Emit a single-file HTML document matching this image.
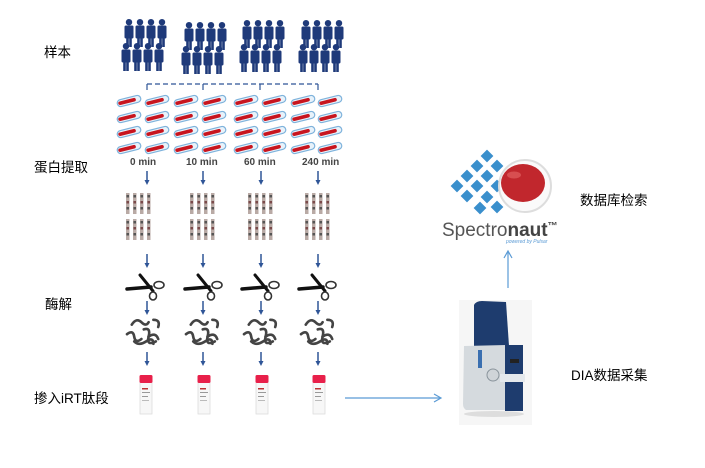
<!DOCTYPE html>
<html><head><meta charset="utf-8"><style>
html,body{margin:0;padding:0;background:#fff}
svg{display:block}
.l{font-family:"Liberation Sans","Noto Sans CJK SC",sans-serif;font-size:13.5px;fill:#000}
.m{font-family:"Liberation Sans",sans-serif;font-size:10px;font-weight:bold;fill:#444}
</style></head><body>
<svg width="705" height="468" viewBox="0 0 705 468" xmlns="http://www.w3.org/2000/svg">
<defs>
<symbol id="p" overflow="visible"><circle cx="5" cy="3.2" r="3.2" fill="#1f3a7a"/><rect x="0.5" y="6.5" width="9" height="13" rx="1.5" fill="#1f3a7a"/><rect x="2.2" y="17" width="2.6" height="11" fill="#1f3a7a"/><rect x="5.2" y="17" width="2.6" height="11" fill="#1f3a7a"/></symbol>
<symbol id="g" overflow="visible">
<use href="#p" x="4" y="0"/><use href="#p" x="15" y="0"/><use href="#p" x="26" y="0"/><use href="#p" x="37" y="0"/>
<use href="#p" x="1" y="24"/><use href="#p" x="12" y="24"/><use href="#p" x="23" y="24"/><use href="#p" x="34" y="24"/>
</symbol>
<symbol id="t" overflow="visible"><g transform="rotate(-14)"><rect x="-12" y="-3.5" width="24" height="7" rx="3.5" fill="#e8f2fa" stroke="#7fb3dc" stroke-width="1.2"/><rect x="-11" y="-1.8" width="18" height="3.6" rx="1.8" fill="#c8141e"/></g></symbol>
<symbol id="tc" overflow="visible"><use href="#t" x="0" y="0"/><use href="#t" x="0" y="16"/><use href="#t" x="0" y="31"/><use href="#t" x="0" y="47"/></symbol>
<symbol id="s" overflow="visible"><rect x="0" y="0" width="3.5" height="21" fill="#b9aaa5"/><rect x="0.5" y="2" width="2.5" height="2.5" fill="#555"/><rect x="0.5" y="8" width="2.5" height="2.5" fill="#7a4a4a"/><rect x="0.5" y="14" width="2.5" height="2.5" fill="#555"/></symbol>
<symbol id="sg" overflow="visible"><use href="#s" x="0" y="0"/><use href="#s" x="7" y="0"/><use href="#s" x="14" y="0"/><use href="#s" x="21" y="0"/><use href="#s" x="0" y="26"/><use href="#s" x="7" y="26"/><use href="#s" x="14" y="26"/><use href="#s" x="21" y="26"/></symbol>
<symbol id="a" overflow="visible"><line x1="0" y1="0" x2="0" y2="11" stroke="#2f5597" stroke-width="1.5"/><path d="M-2.5,9 L0,14 L2.5,9Z" fill="#2f5597"/></symbol>
<symbol id="sc" overflow="visible"><path d="M0,16 L24,14" stroke="#111" stroke-width="3.5" stroke-linecap="round"/><path d="M13,2 L26,18" stroke="#111" stroke-width="3" stroke-linecap="round"/><ellipse cx="32" cy="12" rx="5" ry="3.5" fill="none" stroke="#333" stroke-width="1.6"/><ellipse cx="26" cy="23" rx="3.5" ry="4" fill="none" stroke="#333" stroke-width="1.6"/></symbol>
<symbol id="f" overflow="visible" fill="none" stroke="#444" stroke-width="2.2" stroke-linecap="round"><g transform="scale(1.2)"><path d="M4,8 q4,-6 8,-2 t6,0"/><path d="M0,16 q5,-4 6,2 t6,2"/><path d="M14,12 q6,-2 4,6 t6,4"/><path d="M22,4 q6,0 4,6"/><path d="M6,22 q4,4 10,0 t6,2"/><path d="M18,18 q6,-4 8,2"/></g></symbol>
<symbol id="v" overflow="visible"><rect x="0" y="7" width="12" height="32" fill="#f7f7f7" stroke="#ddd" stroke-width="0.8"/><rect x="-0.5" y="0" width="13" height="8" rx="1.5" fill="#e8204a"/><rect x="2" y="13" width="6" height="1.5" fill="#b33"/><rect x="2" y="17" width="8" height="1" fill="#999"/><rect x="2" y="21" width="6" height="1" fill="#999"/><rect x="2" y="25" width="7" height="1" fill="#bbb"/></symbol>
<symbol id="d" overflow="visible"><rect x="-4.5" y="-4.5" width="9" height="9" fill="#3a8fcc" transform="rotate(45)"/></symbol>
</defs>

<text class="l" x="44" y="57">样本</text>
<text class="l" x="34" y="172">蛋白提取</text>
<text class="l" x="45" y="309">酶解</text>
<text class="l" x="34" y="403">掺入iRT肽段</text>
<text class="l" x="580" y="205">数据库检索</text>
<text class="l" x="571" y="380">DIA数据采集</text>

<use href="#g" x="120" y="19"/><use href="#g" x="180" y="22"/><use href="#g" x="238" y="20"/><use href="#g" x="297" y="20"/>

<line x1="147" y1="84" x2="318" y2="84" stroke="#2f5597" stroke-width="1.2" stroke-dasharray="5,3"/>
<g stroke="#2f5597" stroke-width="1.2"><line x1="147" y1="84" x2="147" y2="90"/><line x1="203" y1="84" x2="203" y2="90"/><line x1="260" y1="84" x2="260" y2="90"/><line x1="318" y1="84" x2="318" y2="90"/></g>

<use href="#tc" x="129" y="101"/><use href="#tc" x="157" y="101"/><use href="#tc" x="186" y="101"/><use href="#tc" x="214" y="101"/><use href="#tc" x="246" y="101"/><use href="#tc" x="274" y="101"/><use href="#tc" x="303" y="101"/><use href="#tc" x="330" y="101"/>

<text class="m" x="130" y="165">0 min</text><text class="m" x="186" y="165">10 min</text><text class="m" x="244" y="165">60 min</text><text class="m" x="302" y="165">240 min</text>

<g>
<use href="#a" x="147" y="171"/><use href="#a" x="203" y="171"/><use href="#a" x="261" y="171"/><use href="#a" x="318" y="171"/>
<use href="#a" x="147" y="254"/><use href="#a" x="203" y="254"/><use href="#a" x="261" y="254"/><use href="#a" x="318" y="254"/>
<use href="#a" x="147" y="301"/><use href="#a" x="203" y="301"/><use href="#a" x="261" y="301"/><use href="#a" x="318" y="301"/>
<use href="#a" x="147" y="352"/><use href="#a" x="203" y="352"/><use href="#a" x="261" y="352"/><use href="#a" x="318" y="352"/>
</g>

<use href="#sg" x="126" y="193"/><use href="#sg" x="190" y="193"/><use href="#sg" x="248" y="193"/><use href="#sg" x="305" y="193"/>
<use href="#sc" x="127" y="273"/><use href="#sc" x="185" y="273"/><use href="#sc" x="242" y="273"/><use href="#sc" x="299" y="273"/>
<use href="#f" x="127" y="315"/><use href="#f" x="186" y="315"/><use href="#f" x="244" y="315"/><use href="#f" x="301" y="315"/>
<use href="#v" x="140" y="375"/><use href="#v" x="198" y="375"/><use href="#v" x="256" y="375"/><use href="#v" x="313" y="375"/>

<line x1="345" y1="398" x2="440" y2="398" stroke="#5b9bd5" stroke-width="1.2"/>
<path d="M434,394 L441,398 L434,402" fill="none" stroke="#5b9bd5" stroke-width="1.2"/>
<line x1="508" y1="288" x2="508" y2="252" stroke="#5b9bd5" stroke-width="1.2"/>
<path d="M504,258 L508,251 L512,258" fill="none" stroke="#5b9bd5" stroke-width="1.2"/>

<!-- instrument -->
<rect x="459" y="300" width="73" height="125" fill="#f6f6f6"/>
<path d="M474,305 Q476,301 482,301 L506,302 L509,346 L474,346Z" fill="#1e3c6e"/>
<path d="M464,346 L506,345 L506,410 L466,410 Q463,408 463,404Z" fill="#d5dade"/>
<rect x="505" y="345" width="18" height="66" fill="#1e3c6e"/>
<rect x="500" y="374" width="25" height="8" fill="#e4e8ec"/>
<circle cx="493" cy="375" r="6" fill="#cfd4d8" stroke="#8a949c"/>
<rect x="510" y="359" width="9" height="4" fill="#222"/>
<rect x="478" y="350" width="4" height="18" fill="#3a6fb0"/>
<ellipse cx="494" cy="414" rx="30" ry="3" fill="#ddd"/>

<!-- spectronaut -->
<use href="#d" x="487" y="156"/><use href="#d" x="477" y="166"/><use href="#d" x="497" y="166"/><use href="#d" x="467" y="176"/><use href="#d" x="487" y="176"/><use href="#d" x="457" y="186"/><use href="#d" x="477" y="186"/><use href="#d" x="497" y="186"/><use href="#d" x="487" y="197"/><use href="#d" x="467" y="196"/><use href="#d" x="497" y="207"/><use href="#d" x="480" y="208"/>
<circle cx="525" cy="186" r="26" fill="#fafafa" stroke="#ddd" stroke-width="2"/>
<ellipse cx="523" cy="183" rx="22" ry="19" fill="#c1272d"/>
<ellipse cx="514" cy="175" rx="7" ry="3.5" fill="#e06060" opacity=".7"/>
<text x="442" y="236" font-family="Liberation Sans,sans-serif" font-size="19" fill="#555">Spectro<tspan font-weight="bold" fill="#444">naut</tspan><tspan font-size="10" dy="-7" font-weight="bold" fill="#444">™</tspan></text>
<text x="506" y="243" font-family="Liberation Sans,sans-serif" font-size="5" font-style="italic" fill="#5b9bd5">powered by Pulsar</text>
</svg>
</body></html>
